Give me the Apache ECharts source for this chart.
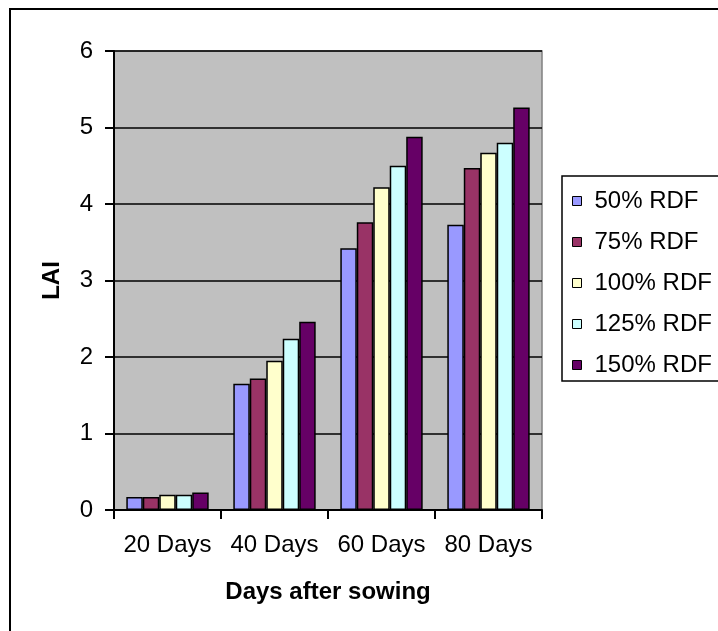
<!DOCTYPE html>
<html>
<head>
<meta charset="utf-8">
<script src="https://cdn.jsdelivr.net/npm/echarts@6/dist/echarts.min.js"></script>
<style>
  html, body { margin: 0; padding: 0; background: #fff; }
  #chart { width: 718px; height: 631px; }
</style>
</head>
<body>
<div id="chart"></div>
<script>
// Leaf area index by days after sowing, per fertiliser dose
const categories = ['20 Days', '40 Days', '60 Days', '80 Days'];
const seriesNames = ['50% RDF', '75% RDF', '100% RDF', '125% RDF', '150% RDF'];
const rdf50  = [0.17, 1.65, 3.42, 3.73];
const rdf75  = [0.17, 1.72, 3.76, 4.47];
const rdf100 = [0.20, 1.95, 4.22, 4.67];
const rdf125 = [0.20, 2.24, 4.50, 4.80];
const rdf150 = [0.23, 2.46, 4.88, 5.26];
const yTicks = [0, 1, 2, 3, 4, 5, 6];

const seriesValues = [rdf50, rdf75, rdf100, rdf125, rdf150];
const colors = ['#9999FF', '#993366', '#FFFFCC', '#CCFFFF', '#660066'];
const font = "'Liberation Sans', Arial, sans-serif";

const chart = echarts.init(document.getElementById('chart'));
chart.setOption({
  animation: false,
  textStyle: { fontFamily: font },
  graphic: [
    { type: 'rect', shape: { x: 10, y: 9, width: 800, height: 800 },
      style: { fill: null, stroke: '#000', lineWidth: 2 }, z: 100 },
    { type: 'rect', shape: { x: 562, y: 176, width: 300, height: 205 },
      style: { fill: '#fff', stroke: '#000', lineWidth: 1.5 }, z: -1 }
  ],
  grid: {
    left: 114, right: 176, top: 51, bottom: 121,
    show: true, backgroundColor: '#C0C0C0', borderColor: '#808080', borderWidth: 1.5
  },
  legend: {
    orient: 'vertical', left: 567, top: 184,
    itemWidth: 9, itemHeight: 9, itemGap: 17, icon: 'rect',
    itemStyle: { borderColor: '#000', borderWidth: 1 },
    textStyle: { fontSize: 24, color: '#000', fontFamily: font, lineHeight: 24, padding: [0, 0, 0, 8] },
    data: seriesNames
  },
  xAxis: {
    type: 'category', data: categories,
    axisLine: { lineStyle: { color: '#000', width: 2 } },
    axisTick: { show: true, length: 9, lineStyle: { color: '#000', width: 2 } },
    axisLabel: { interval: 0, fontSize: 24, color: '#000', margin: 23, fontFamily: font },
    name: 'Days after sowing', nameLocation: 'middle', nameGap: 70,
    nameTextStyle: { fontSize: 24, fontWeight: 'bold', color: '#000', fontFamily: font }
  },
  yAxis: {
    type: 'value', min: yTicks[0], max: yTicks[yTicks.length - 1], interval: 1,
    axisLine: { show: true, lineStyle: { color: '#000', width: 2 } },
    axisTick: { show: true, length: 9, lineStyle: { color: '#000', width: 2 } },
    axisLabel: { fontSize: 24, color: '#000', margin: 21, fontFamily: font },
    splitLine: { lineStyle: { color: '#000', width: 1.5 } },
    name: 'LAI', nameLocation: 'middle', nameGap: 50, nameRotate: 90,
    nameTextStyle: { fontSize: 24, fontWeight: 'bold', color: '#000', fontFamily: font }
  },
  series: seriesNames.map((name, i) => ({
    name, type: 'bar', data: seriesValues[i],
    barGap: '0%', barCategoryGap: '23%',
    itemStyle: { color: colors[i], borderColor: '#000', borderWidth: 1.5 }
  }))
});
</script>
</body>
</html>
